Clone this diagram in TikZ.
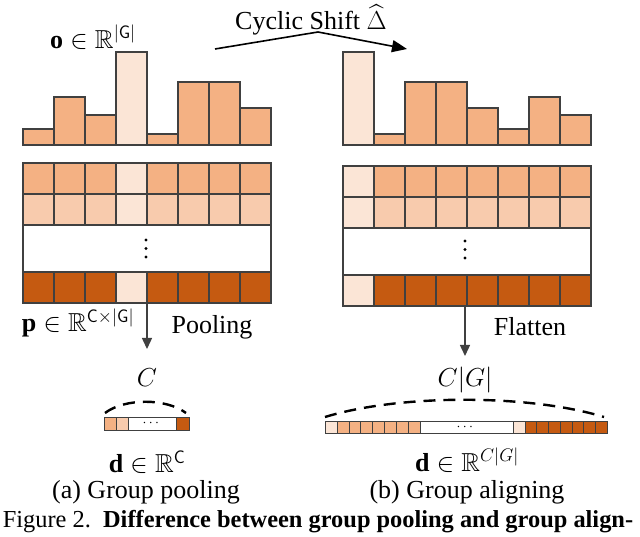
\RequirePackage{fix-cm}
\documentclass[tikz,border=0pt]{standalone}
\usepackage{amsmath,amssymb}
\usepackage{fontspec}
\setmainfont{Liberation Serif}
\usepackage{tikz}
\usetikzlibrary{positioning,arrows.meta,calc}

\definecolor{barmid}{HTML}{F4B183}
\definecolor{barpale}{HTML}{F8CBAD}
\definecolor{barlight}{HTML}{FBE5D6}
\definecolor{bardark}{HTML}{C55A11}
\definecolor{edgegray}{HTML}{404040}

\begin{document}
\begin{tikzpicture}[x=1pt,y=-1pt,
  cell/.style={draw=edgegray,line width=1.2pt},
  thin cell/.style={draw=edgegray,line width=0.7pt},
  lbl/.style={font=\fontsize{26}{30}\selectfont,inner sep=0pt},
  flow/.style={-{Triangle[length=11pt,width=10pt]},draw=edgegray,line width=1.4pt},
  span/.style={line width=2.4pt,dash pattern=on 12pt off 8pt}]

  \useasboundingbox (0,0) rectangle (640,537);

  % histograms
  \foreach \h/\c [count=\i from 0] in {129/barmid,97/barmid,115/barmid,52/barlight,134/barmid,82/barmid,82/barmid,108/barmid}
    \filldraw[cell,fill=\c] ({23+31*\i},145) rectangle ({54+31*\i},\h);
  \foreach \h/\c [count=\i from 0] in {52/barlight,134/barmid,82/barmid,82/barmid,108/barmid,129/barmid,97/barmid,115/barmid}
    \filldraw[cell,fill=\c] ({343+31*\i},145) rectangle ({374+31*\i},\h);

  \node[lbl] (ovec) at (93,37) {$\mathbf{o}\in\mathbb{R}^{|\mathsf{G}|}$};

  % cyclic shift
  \coordinate (shiftsrc) at (215,49);
  \coordinate (shiftbend) at (318,32);
  \coordinate (shifttip) at (407,49);
  \draw[-{Triangle[length=15pt,width=12pt]},line width=1.6pt] (shiftsrc) -- (shiftbend) -- (shifttip);
  \node[lbl] (shift) at (311,20) {Cyclic Shift $\widehat{\Delta}$};

  % feature grids
  \foreach \i in {0,...,7} {
    \filldraw[cell,fill=barmid] ({23+31*\i},163) rectangle ++(31,31);
    \filldraw[cell,fill=barpale] ({23+31*\i},194) rectangle ++(31,31);
    \filldraw[cell,fill=bardark] ({23+31*\i},272) rectangle ++(31,31);
    \filldraw[cell,fill=barmid] ({343+31*\i},166) rectangle ++(31,31);
    \filldraw[cell,fill=barpale] ({343+31*\i},197) rectangle ++(31,31);
    \filldraw[cell,fill=bardark] ({343+31*\i},275) rectangle ++(31,31);
  }
  \foreach \y in {163,194,272}
    \filldraw[cell,fill=barlight] (116,\y) rectangle ++(31,31);
  \foreach \y in {166,197,275}
    \filldraw[cell,fill=barlight] (343,\y) rectangle ++(31,31);
  \draw[cell] (23,225) rectangle (271,272);
  \draw[cell] (343,228) rectangle (591,275);
  % vertical dots
  \foreach \y in {240,248.5,257} {
    \fill (146,\y) circle (1.7);
    \fill (465,{\y+1}) circle (1.7);
  }

  % pooling / flatten
  \coordinate (lgrid) at (147,303);
  \coordinate (lpool) at (147,349);
  \coordinate (rgrid) at (465,306);
  \coordinate (rflat) at (465,356);
  \draw[flow] (lgrid) -- (lpool);
  \draw[flow] (rgrid) -- (rflat);

  \node[lbl] (pvec) at (78,323) {$\mathbf{p}\in\mathbb{R}^{\mathsf{C}\times|\mathsf{G}|}$};
  \node[lbl] (pool) at (212,327) {Pooling};
  \node[lbl] (flat) at (530,327) {Flatten};

  % pooled vector
  \filldraw[thin cell,fill=barmid] (104,417) rectangle (116,430);
  \filldraw[thin cell,fill=barpale] (116,417) rectangle (128,430);
  \draw[thin cell] (128,417) rectangle (176,430);
  \filldraw[thin cell,fill=bardark] (176,417) rectangle (189,430);
  \node[font=\fontsize{14}{16}\selectfont,inner sep=0pt] (lvdots) at (152,423) {$\cdots$};

  % aligned vector
  \filldraw[thin cell,fill=barlight] (325,421) rectangle (337,433);
  \foreach \i in {0,...,6}
    \filldraw[thin cell,fill=barmid] ({337+11.857*\i},421) rectangle ++(11.857,12);
  \draw[thin cell] (420,421) rectangle (513,433);
  \filldraw[thin cell,fill=barlight] (513,421) rectangle (525,433);
  \foreach \i in {0,...,6}
    \filldraw[thin cell,fill=bardark] ({525+11.714*\i},421) rectangle ++(11.714,12);
  \node[font=\fontsize{14}{16}\selectfont,inner sep=0pt] (rvdots) at (466,427) {$\cdots$};

  % dimension spans
  \coordinate (lspanl) at (105,413);
  \coordinate (lspanr) at (186,413);
  \coordinate (rspanl) at (325,417);
  \coordinate (rspanr) at (604,417);
  \draw[span] (lspanl) .. controls (125,398) and (166,398) .. (lspanr);
  \draw[span] (rspanl) .. controls (400,394) and (529,394) .. (rspanr);
  \node[lbl] (cdim) at (147,378) {$C$};
  \node[lbl] (cgdim) at (465,380) {$C|G|$};

  \node[lbl] (dpool) at (147,462) {$\mathbf{d}\in\mathbb{R}^{\mathsf{C}}$};
  \node[lbl] (dalign) at (467,460) {$\mathbf{d}\in\mathbb{R}^{C|G|}$};
  \node[lbl] (suba) at (146,492) {(a) Group pooling};
  \node[lbl] (subb) at (467,492) {(b) Group aligning};
  \node[lbl,font=\fontsize{24.4}{28}\selectfont] (caption) at (318,522) {Figure 2.\ \ \textbf{Difference between group pooling and group align-}};

\end{tikzpicture}
\end{document}
